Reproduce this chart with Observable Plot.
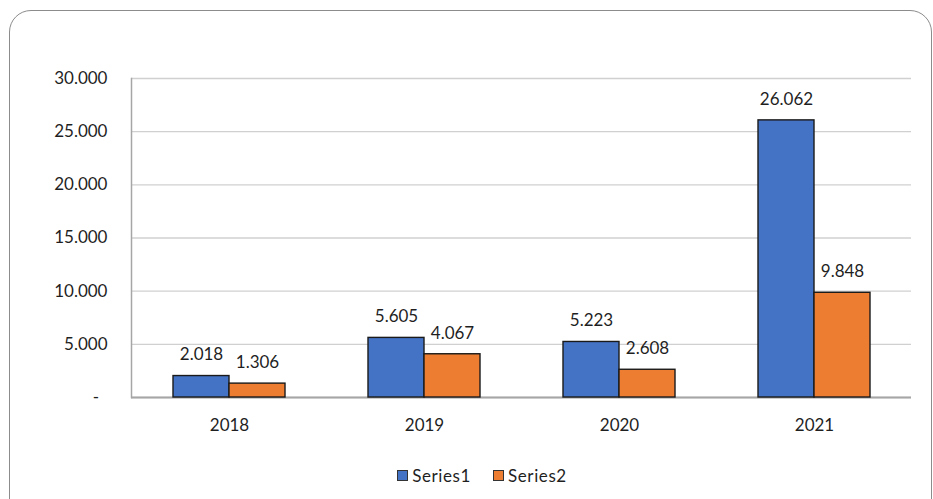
<!DOCTYPE html>
<html>
<head>
<meta charset="utf-8">
<script src="https://cdn.jsdelivr.net/npm/d3@7"></script>
<script src="https://cdn.jsdelivr.net/npm/@observablehq/plot@0.6"></script>
<style>
  html, body { margin: 0; padding: 0; background: #fff; }
  #wrap { position: relative; width: 933px; height: 499px; overflow: hidden; font-family: Lato, sans-serif; }
  #border { position: absolute; left: 9px; top: 10px; width: 923px; height: 520px; box-sizing: border-box;
            border: 1.5px solid #8c8c8c; border-radius: 22px; }
  #grid, #chart { position: absolute; left: 0; top: 0; }
  #legend { position: absolute; left: 0; width: 964px; top: 465px; display: flex; justify-content: center; gap: 22px;
            font-size: 17px; color: #1f1f1f; letter-spacing: 0.6px; }
  .item { display: flex; align-items: center; gap: 4px; }
  .sw { width: 9px; height: 9px; border: 1px solid #333; }
</style>
</head>
<body>
<div id="wrap">
  <div id="border"></div>
  <div id="grid"></div>
  <div id="chart"></div>
  <div id="legend"></div>
</div>
<script>
const years = ["2018", "2019", "2020", "2021"];
const seriesNames = ["Series1", "Series2"];
const series1 = [2018, 5605, 5223, 26062];
const series2 = [1306, 4067, 2608, 9848];
const yTicks = [0, 5000, 10000, 15000, 20000, 25000, 30000];
const colors = ["#4472C4", "#ED7D31"];

const data = [];
years.forEach((yr, i) => {
  data.push({year: yr, series: seriesNames[0], value: series1[i]});
  data.push({year: yr, series: seriesNames[1], value: series2[i]});
});

const loc = d3.formatLocale({decimal: ",", thousands: ".", grouping: [3], currency: ["", ""]});
const fmt = loc.format(",d");
const tickFmt = v => v === 0 ? "-\u2002" : fmt(v);

const common = {
  width: 933,
  height: 460,
  marginLeft: 131,
  marginRight: 22,
  marginTop: 78,
  marginBottom: 63,
  style: {fontFamily: "Lato, sans-serif", fontSize: "17px", color: "#1f1f1f", background: "transparent"},
  y: {domain: [0, 30000], label: null}
};

// background layer: grid, axis lines and y tick labels (unfaceted, so lines run across the full width)
const gridPlot = Plot.plot({
  ...common,
  x: {domain: years, axis: null},
  marks: [
    Plot.ruleY(yTicks, {stroke: "#d0d0d0", strokeWidth: 1.3}),
    Plot.frame({anchor: "left", stroke: "#a6a6a6", strokeWidth: 1.5}),
    Plot.ruleY([0], {stroke: "#a6a6a6", strokeWidth: 1.8}),
    Plot.axisY({ticks: yTicks, tickFormat: tickFmt, tickSize: 0, tickPadding: 24, label: null})
  ]
});
document.getElementById("grid").appendChild(gridPlot);

// foreground layer: grouped bars and labels
const chart = Plot.plot({
  ...common,
  fx: {domain: years, paddingInner: 0.426, paddingOuter: 0.213, label: null},
  x: {domain: seriesNames, padding: 0, axis: null},
  color: {domain: seriesNames, range: colors},
  marks: [
    Plot.axisY({ticks: [], label: null}),
    Plot.axisFx({anchor: "bottom", tickSize: 0, tickPadding: 21, label: null}),
    Plot.barY(data, {fx: "year", x: "series", y: "value", fill: "series", stroke: "#1a1a1a", strokeWidth: 1.4}),
    Plot.text(data, {fx: "year", x: "series", y: "value", text: d => fmt(d.value), dy: -21, fill: "#1f1f1f", fontSize: 17})
  ]
});
document.getElementById("chart").appendChild(chart);

const legend = document.getElementById("legend");
seriesNames.forEach((s, i) => {
  const it = document.createElement("div");
  it.className = "item";
  const sw = document.createElement("span");
  sw.className = "sw";
  sw.style.background = colors[i];
  const t = document.createElement("span");
  t.textContent = s;
  it.appendChild(sw); it.appendChild(t);
  legend.appendChild(it);
});
</script>
</body>
</html>
